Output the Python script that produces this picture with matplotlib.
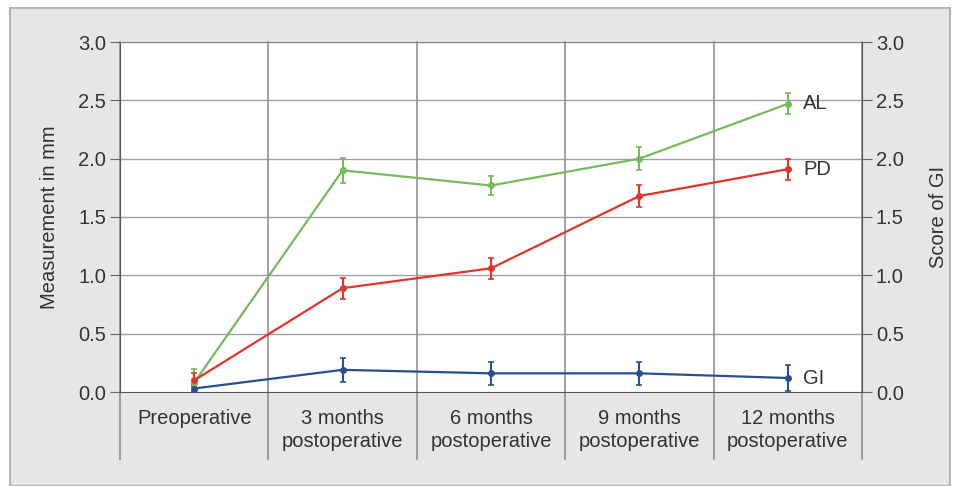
import matplotlib
matplotlib.use('agg')
import matplotlib.pyplot as plt
from matplotlib.patches import Rectangle
import numpy as np

# 数据
categories = ['Preoperative', '3 months\npostoperative', '6 months\npostoperative',
              '9 months\npostoperative', '12 months\npostoperative']
al = [0.08, 1.90, 1.77, 2.00, 2.47]
al_err = [0.12, 0.11, 0.08, 0.10, 0.09]
pd_vals = [0.10, 0.89, 1.06, 1.68, 1.91]
pd_err = [0.06, 0.09, 0.09, 0.09, 0.09]
gi = [0.03, 0.19, 0.16, 0.16, 0.12]
gi_err = [0.03, 0.10, 0.10, 0.10, 0.11]
yticks = [0.0, 0.5, 1.0, 1.5, 2.0, 2.5, 3.0]

W, H = 958, 486
fs = 14.5
txt = '#333333'
fig = plt.figure(figsize=(W / 100, H / 100), dpi=100, facecolor='white')
plt.rcParams['font.family'] = ['Liberation Sans', 'DejaVu Sans']

# 灰色背景框
fig.patches.append(Rectangle((10 / W, 0), 940 / W, 1 - 8 / H, transform=fig.transFigure,
                             facecolor='#e6e6e6', edgecolor='#b5b5b5', linewidth=1.5, zorder=-10))

ax = fig.add_axes([120 / W, 1 - 392 / H, 742 / W, 350 / H])
ax.set_facecolor('white')
x = np.arange(len(categories)) + 0.5
ax.set_xlim(0, len(categories))
ax.set_ylim(0, 3.0)

# 网格
for y in yticks[1:]:
    ax.axhline(y, color='#a0a0a0', linewidth=1, zorder=1)
for b in range(len(categories) + 1):
    ax.axvline(b, ymin=-0.19, ymax=1, color='#909090', linewidth=1.2, clip_on=False, zorder=1)

green = '#78b95e'
red = '#e2342b'
blue = '#2b4f8c'
for vals, err, c, lab in [(al, al_err, green, 'AL'), (pd_vals, pd_err, red, 'PD'), (gi, gi_err, blue, 'GI')]:
    ax.errorbar(x, vals, yerr=err, color=c, linewidth=1.6, marker='o', markersize=4,
                capsize=2.5, elinewidth=1.5, capthick=1.2, zorder=3)
    ax.annotate(lab, (x[-1], vals[-1]), xytext=(11, 0), textcoords='offset points',
                va='center', ha='left', fontsize=fs, color=txt)

ax.set_xticks(x)
ax.set_xticklabels(categories, fontsize=fs, color=txt, linespacing=1.3)
ax.tick_params(axis='x', length=0, pad=12)
ax.set_yticks(yticks)
ax.set_yticklabels(['%.1f' % v for v in yticks], fontsize=fs, color=txt)
ax.tick_params(axis='y', length=7, color='#666666', pad=3)
ax.set_ylabel('Measurement in mm', fontsize=fs, color=txt, labelpad=14)

ax.spines['top'].set_color('#888888')
ax.spines['left'].set_color('#555555')
ax.spines['bottom'].set_color('#555555')
ax.spines['right'].set_visible(False)

ax2 = ax.twinx()
ax2.set_ylim(0, 3.0)
ax2.set_yticks(yticks)
ax2.set_yticklabels(['%.1f' % v for v in yticks], fontsize=fs, color=txt)
ax2.tick_params(axis='y', length=7, color='#666666', pad=3)
ax2.set_ylabel('Score of GI', fontsize=fs, color=txt, labelpad=18)
for s in ['top', 'left', 'bottom']:
    ax2.spines[s].set_visible(False)
ax2.spines['right'].set_color('#555555')

plt.savefig('out.png', dpi=100, facecolor=fig.get_facecolor())
